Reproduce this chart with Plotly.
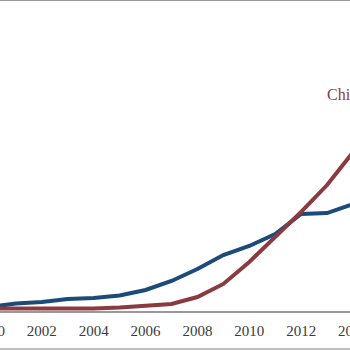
import plotly.graph_objects as go

years = list(range(2000, 2015))
us_values = [2.6, 4.8, 5.8, 7.7, 8.4, 10.0, 13.5, 19.3, 27.0, 36.0, 41.8, 49.5, 62.4, 63.0, 68.8]
china_values = [1.6, 1.6, 1.4, 1.4, 1.6, 2.3, 3.2, 4.5, 9.0, 17.4, 31.5, 47.6, 63.7, 81.0, 102.2]
tick_years = [2000, 2002, 2004, 2006, 2008, 2010, 2012, 2014]
tick_labels = [str(y) for y in tick_years]
china_label = "China"

BLUE = "#1b4b78"
RED = "#8b3a40"
SERIF = "Palatino Linotype, Book Antiqua, Liberation Serif, DejaVu Serif, serif"

fig = go.Figure()
fig.add_trace(go.Scatter(x=years, y=us_values, mode="lines",
                         line=dict(color=BLUE, width=4), name="US"))
fig.add_trace(go.Scatter(x=years, y=china_values, mode="lines",
                         line=dict(color=RED, width=4), name="China"))

fig.add_annotation(x=2012.93, y=139, xref="x", yref="y", text=china_label,
                   showarrow=False, xanchor="left", yanchor="middle",
                   font=dict(family=SERIF, size=16, color=RED))

# frame lines of the original figure
fig.add_shape(type="line", xref="paper", yref="paper", x0=0, x1=1, y0=1, y1=1,
              line=dict(color="#999999", width=2))
fig.add_shape(type="line", xref="paper", yref="paper", x0=0, x1=1,
              y0=-38 / 311, y1=-38 / 311, line=dict(color="#aaaaaa", width=1.5))

fig.update_layout(
    width=363, height=350,
    margin=dict(l=0, r=0, t=0, b=39, autoexpand=False),
    plot_bgcolor="white", paper_bgcolor="white",
    showlegend=False,
    xaxis=dict(range=[2000, 2014], tickmode="array", tickvals=tick_years,
               ticktext=tick_labels, showgrid=False, zeroline=False,
               showline=True, linecolor="#999999", linewidth=1.5,
               ticks="outside", ticklen=5, tickcolor="rgba(0,0,0,0)",
               ticklabeloverflow="allow", automargin=False,
               tickfont=dict(family=SERIF, size=15, color="#3a3a3a")),
    yaxis=dict(range=[0, 200], showgrid=False, zeroline=False,
               showticklabels=False, showline=False, automargin=False),
)

post = ("document.body.style.margin='0';document.body.style.overflow='hidden';"
        "var d=document.getElementById('{plot_id}');d.style.marginLeft='-10px';")
fig.write_html("out.html", post_script=post)
